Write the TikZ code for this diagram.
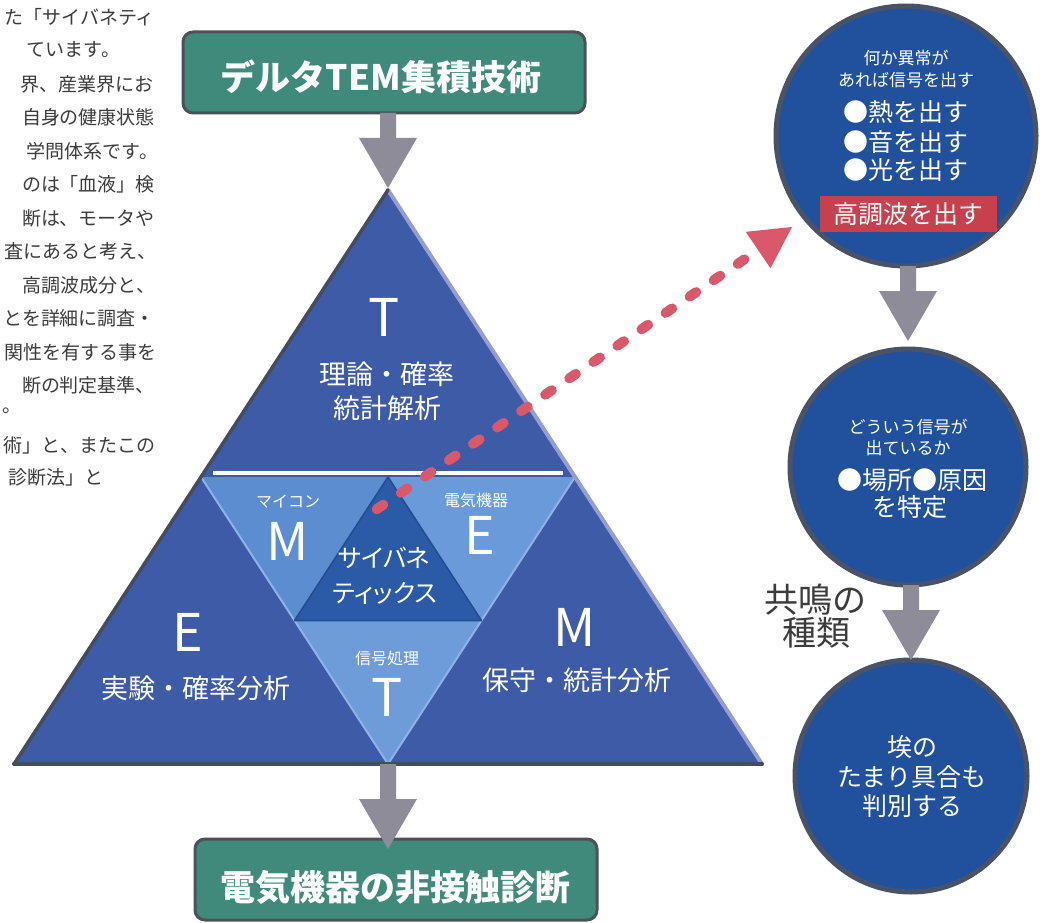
\documentclass[tikz,border=0pt]{standalone}
\usepackage{fontspec}
\setmainfont{Noto Sans CJK JP}
\usetikzlibrary{calc,arrows.meta}
\definecolor{outerblue}{HTML}{3E5BA8}
\definecolor{lightM}{HTML}{5C8DD1}
\definecolor{lightE}{HTML}{6A9ADA}
\definecolor{lightT}{HTML}{6E9CD9}
\definecolor{centerblue}{HTML}{2B5AA6}
\definecolor{circblue}{HTML}{21519C}
\definecolor{rimgray}{HTML}{4A5268}
\definecolor{boxgreen}{HTML}{3F8A7B}
\definecolor{boxrim}{HTML}{4C5257}
\definecolor{arrowgray}{HTML}{8E8C98}
\definecolor{redarrow}{HTML}{D9596B}
\definecolor{redbox}{HTML}{C6404E}
\definecolor{bodytext}{HTML}{3C3C3C}
\definecolor{bevlight}{HTML}{959DD3}
\definecolor{bevdark}{HTML}{454B61}
\definecolor{edgelight}{HTML}{8FB3E6}
\definecolor{edgedark}{HTML}{234C90}
\newcommand{\setfs}[1]{\fontsize{#1pt}{#1pt}\selectfont}
\newcommand{\garrow}[2]{%
  \fill[arrowgray] ($(#1)+(-8,0)$) -- ($(#2)+(-8,-50)$) -- ($(#2)+(-29,-50)$) -- (#2)
    -- ($(#2)+(29,-50)$) -- ($(#2)+(8,-50)$) -- ($(#1)+(8,0)$) -- cycle;}
\begin{document}
\begin{tikzpicture}[x=1pt,y=-1pt,
  every node/.style={inner sep=0pt, outer sep=0pt},
  bodyline/.style={anchor=east, text=bodytext, font=\setfs{19}},
  titlebox/.style={draw=boxrim, line width=3pt, fill=boxgreen, rounded corners=10pt, minimum width=402pt, minimum height=81pt},
  titletext/.style={text=white, font=\setfs{35}\bfseries},
  circ/.style={circle, fill=circblue, draw=rimgray, line width=5pt},
  letter/.style={text=white, font=\setfs{52}},
  region/.style={text=white, font=\setfs{27}},
  smalllab/.style={text=white, font=\setfs{16}},
  cyb/.style={text=white, font=\setfs{25}\addfontfeatures{RawFeature=+palt}},
  circsmall/.style={text=white, font=\setfs{17}},
  circbig/.style={text=white, font=\setfs{25}},
  sidelab/.style={text=bodytext, font=\setfs{34}},
  reddots/.style={draw=redarrow, line width=10pt, line cap=round, dash pattern=on 8pt off 21.1pt,
     -{Triangle[length=41pt,width=44pt,line width=0pt]}},
]
\fill[white] (0,0) rectangle (1045,923);
\useasboundingbox (0,0) rectangle (1045,923);

% ---- left body text (cropped page) ----
\begin{scope}
\clip (0,0) rectangle (170,500);
\node[bodyline] (l1) at (155,17) {た「サイバネティ};
\node[bodyline] (l2) at (120,50) {ています。};
\node[bodyline] (l3) at (153,84) {界、産業界にお};
\node[bodyline] (l4) at (155,117) {自身の健康状態};
\node[bodyline] (l5) at (158,151) {学問体系です。};
\node[bodyline] (l6) at (155,184) {のは「血液」検};
\node[bodyline] (l7) at (155,218) {断は、モータや};
\node[bodyline] (l8) at (157,251) {査にあると考え、};
\node[bodyline] (l9) at (155,285) {高調波成分と、};
\node[bodyline] (l10) at (155,318) {とを詳細に調査・};
\node[bodyline] (l11) at (157,352) {関性を有する事を};
\node[bodyline] (l12) at (155,385) {断の判定基準、};
\node[bodyline, anchor=west] (l13) at (2,411) {。};
\node[bodyline] (l14) at (155,445) {術」と、またこの};
\node[bodyline] (l15) at (104,477) {診断法」と};
\end{scope}

% ---- title boxes ----
\node[titlebox] (top) at (384,72.5) {};
\node[titletext] (toptext) at (381,77) {デルタTEM集積技術};
\node[titlebox] (bot) at (396,879.5) {};
\node[titletext] (bottext) at (395,887) {電気機器の非接触診断};

% ---- triangle ----
\coordinate (A) at (388,190);
\coordinate (B) at (14,764);
\coordinate (C) at (762,764);
\coordinate (D) at ($(A)!0.5!(B)$);
\coordinate (E) at ($(A)!0.5!(C)$);
\coordinate (F) at ($(B)!0.5!(C)$);
\coordinate (G) at ($(D)!0.5!(E)$);
\coordinate (H) at ($(D)!0.5!(F)$);
\coordinate (I) at ($(E)!0.5!(F)$);
\fill[outerblue] (A) -- (B) -- (C) -- cycle;
\fill[lightM] (D) -- (G) -- (H) -- cycle;
\fill[lightE] (G) -- (E) -- (I) -- cycle;
\fill[lightT] (H) -- (I) -- (F) -- cycle;
\draw[edgelight, line width=2pt] (D) -- (F) -- (E);
\fill[centerblue] (G) -- (H) -- (I) -- cycle;
\draw[edgedark, line width=1.5pt, line join=round] (G) -- (H) -- (I) -- cycle;
\draw[white, line width=4pt] ($(D)+(12,-4)$) -- ($(E)+(-12,-4)$);
\draw[bevlight, line width=4pt, line cap=round] (A) -- (C);
\draw[bevdark, line width=3.5pt, line cap=round] (B) -- (A);
\draw[bevdark, line width=4pt, line cap=round] (B) -- (C);

\node[letter] (tT) at (384,317) {T};
\node[region] (tT1) at (387,374) {理論・確率};
\node[region] (tT2) at (387,408) {統計解析};
\node[smalllab] (mlab) at (288,502) {マイコン};
\node[letter] (mM) at (288,541) {M};
\node[smalllab] (elab) at (476,500) {電気機器};
\node[letter] (eE) at (480,535) {E};
\node[cyb] (cy1) at (384,558) {サイバネ};
\node[cyb] (cy2) at (385,593) {ティックス};
\node[smalllab] (tlab) at (387,658) {信号処理};
\node[letter] (tT3) at (387,697) {T};
\node[letter] (lE) at (188,632) {E};
\node[region] (lE1) at (196,688) {実験・確率分析};
\node[letter] (rM) at (575,627) {M};
\node[region] (rM1) at (577,680) {保守・統計分析};

% ---- circles ----
\node[circ, minimum size=260pt] (c1) at (906,136) {};
\node[circ, minimum size=236pt] (c2) at (908,467) {};
\node[circ, minimum size=232pt] (c3) at (911,776) {};

\node[circsmall] (c1a) at (906,58) {何か異常が};
\node[circsmall] (c1b) at (906,80) {あれば信号を出す};
\node[circbig] (c1c) at (906,112) {●熱を出す};
\node[circbig] (c1d) at (906,142) {●音を出す};
\node[circbig] (c1e) at (906,170) {●光を出す};
\node[fill=redbox, text=white, font=\setfs{25}, minimum width=177pt, minimum height=36pt] (harm) at (908,214) {高調波を出す};

\node[circsmall] (c2a) at (908,427) {どういう信号が};
\node[circsmall] (c2b) at (908,448) {出ているか};
\node[circbig] (c2c) at (912,480) {●場所●原因};
\node[circbig] (c2d) at (910,507) {を特定};

\node[circbig] (c3a) at (912,747) {埃の};
\node[circbig] (c3b) at (912,777) {たまり具合も};
\node[circbig] (c3c) at (912,806) {判別する};

\node[sidelab] (kyo1) at (815,600) {共鳴の};
\node[sidelab] (kyo2) at (816,633) {種類};

% ---- grey arrows ----
\coordinate (a0s) at (A |- top.south);
\coordinate (a0e) at ($(A)+(0,-2)$);
\garrow{a0s}{a0e}
\coordinate (a1s) at (F);
\coordinate (a1e) at ($(F |- bot.north)+(0,10)$);
\garrow{a1s}{a1e}
\coordinate (a2s) at (c2 |- c1.south);
\coordinate (a2e) at ($(c2.north)+(0,-8)$);
\garrow{a2s}{a2e}
\coordinate (a3s) at (c3 |- c2.south);
\coordinate (a3e) at (c3.north);
\garrow{a3s}{a3e}

% ---- red dotted arrow ----
\coordinate (rs) at (376.7,509.2);
\coordinate (re) at (792,227);
\draw[reddots] (rs) -- (re);
\end{tikzpicture}
\end{document}
